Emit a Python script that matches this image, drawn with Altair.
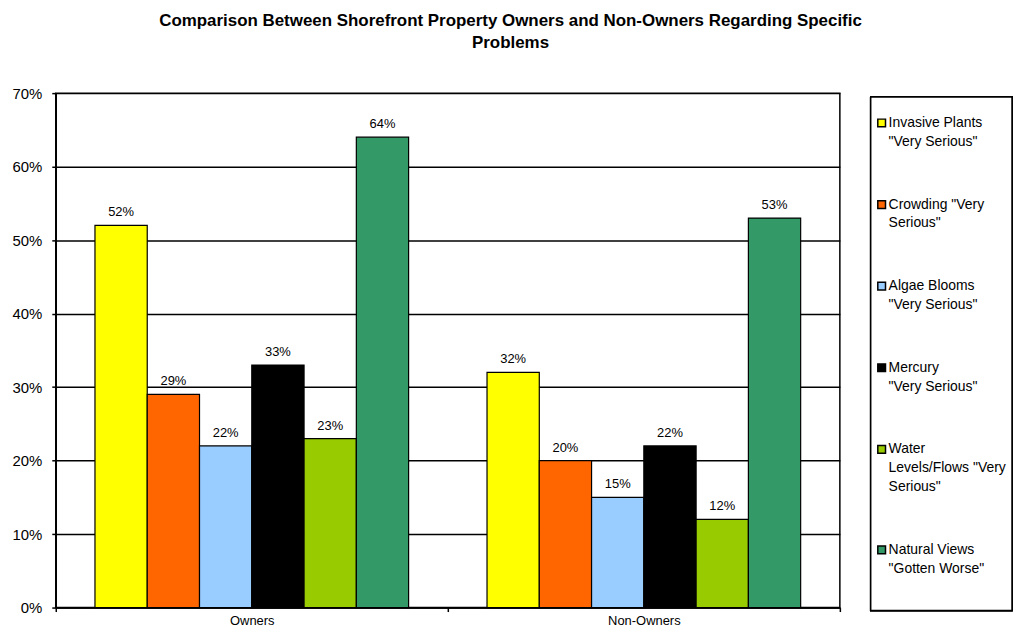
import altair as alt
import pandas as pd

groups = ["Owners", "Non-Owners"]
series = [
    'Invasive Plants "Very Serious"',
    'Crowding "Very Serious"',
    'Algae Blooms "Very Serious"',
    'Mercury "Very Serious"',
    'Water Levels/Flows "Very Serious"',
    'Natural Views "Gotten Worse"',
]
legend_lines = [
    'Invasive Plants\n"Very Serious"',
    'Crowding "Very\nSerious"',
    'Algae Blooms\n"Very Serious"',
    'Mercury\n"Very Serious"',
    'Water\nLevels/Flows "Very\nSerious"',
    'Natural Views\n"Gotten Worse"',
]
colors = ["#FFFF00", "#FF6600", "#99CCFF", "#000000", "#99CC00", "#339966"]
owners = [0.52, 0.29, 0.22, 0.33, 0.23, 0.64]
non_owners = [0.32, 0.20, 0.15, 0.22, 0.12, 0.53]
y_ticks = [0, 0.1, 0.2, 0.3, 0.4, 0.5, 0.6, 0.7]

rows = []
for g, vals in zip(groups, [owners, non_owners]):
    for s, v in zip(series, vals):
        rows.append({"group": g, "series": s, "value": v})
df = pd.DataFrame(rows)

FONT = "Liberation Sans"

x_enc = alt.X("group:N", sort=groups,
              scale=alt.Scale(paddingInner=0, paddingOuter=0),
              axis=alt.Axis(title=None, labelAngle=0, tickBand="extent",
                            labelFontSize=13, labelColor="black", labelFont=FONT,
                            tickColor="black", tickSize=4, domainColor="black",
                            domainWidth=1.5, tickWidth=1.5, labelPadding=3))
y_enc = alt.Y("value:Q", scale=alt.Scale(domain=[0, 0.7], nice=False),
              axis=alt.Axis(title=None, format=".0%", values=y_ticks,
                            labelFontSize=15, labelColor="black", labelFont=FONT,
                            tickColor="black", tickSize=4, tickWidth=1.5,
                            domainColor="black", domainWidth=1.5,
                            grid=True, gridColor="black", gridWidth=1.5,
                            labelPadding=10, minExtent=47, maxExtent=47))
xoff = alt.XOffset("series:N", sort=series,
                   scale=alt.Scale(paddingInner=0, paddingOuter=0.75))

bars = alt.Chart(df).mark_bar(stroke="black", strokeWidth=1.2).encode(
    x=x_enc, y=y_enc, xOffset=xoff,
    color=alt.Color("series:N", sort=series,
                    scale=alt.Scale(domain=series, range=colors), legend=None),
)
labels = alt.Chart(df).mark_text(baseline="bottom", dy=-6, fontSize=13,
                                 font=FONT, color="black").encode(
    x=x_enc, y=y_enc, xOffset=xoff,
    text=alt.Text("value:Q", format=".0%"),
)
main = alt.layer(bars, labels).properties(width=788, height=517)

# legend entries: position in "line units" (previous lines + gap per entry)
n_lines = [lbl.count("\n") + 1 for lbl in legend_lines]
GAP_UNITS = 44 / 19
slot = []
acc = 0.0
for i, n in enumerate(n_lines):
    slot.append(acc)
    acc += n + GAP_UNITS
leg_df = pd.DataFrame({"slot": slot, "label": legend_lines, "series": series})

LINE_PX = 19
FIRST_PX = 30
PANEL_H = 520
leg_y = alt.Y("slot:Q", axis=None,
              scale=alt.Scale(domain=[-FIRST_PX / LINE_PX, (PANEL_H - FIRST_PX) / LINE_PX],
                              range=[0, PANEL_H], nice=False, zero=False))
frame = alt.Chart(leg_df).mark_rect(fill="white", stroke="black", strokeWidth=1.5).encode(
    x=alt.value(0), x2=alt.value(142), y=alt.value(4), y2=alt.value(PANEL_H),
)
sym = alt.Chart(leg_df).mark_square(size=60, stroke="black", strokeWidth=1.5,
                                    opacity=1).encode(
    x=alt.value(11), y=leg_y,
    color=alt.Color("series:N", sort=series,
                    scale=alt.Scale(domain=series, range=colors), legend=None),
)
txt = alt.Chart(leg_df).mark_text(align="left", baseline="middle",
                                  lineBreak="\n", lineHeight=LINE_PX, fontSize=14,
                                  font=FONT, color="black").encode(
    x=alt.value(18), y=leg_y, text="label:N",
)
legend_panel = alt.layer(frame, sym, txt).properties(
    width=142, height=PANEL_H, view=alt.ViewConfig(stroke=None))

chart = alt.hconcat(main, legend_panel, spacing=28).properties(
    title=alt.TitleParams(
        ["Comparison Between Shorefront Property Owners and Non-Owners Regarding Specific",
         "Problems"],
        anchor="middle", fontSize=17, fontWeight="bold", font=FONT,
        color="black", lineHeight=22, offset=34),
    padding={"left": 0, "top": 2, "right": 0, "bottom": 0},
    background="white",
).configure_view(stroke="black", strokeWidth=1.5)

chart.save("out.html", embed_options={"renderer": "svg", "actions": False})
